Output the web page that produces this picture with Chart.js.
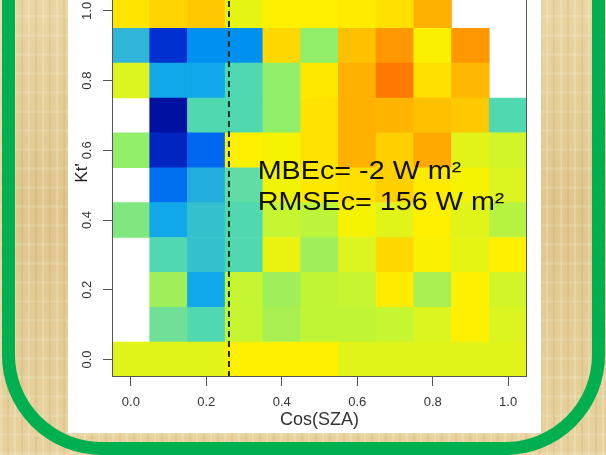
<!DOCTYPE html>
<html>
<head>
<meta charset="utf-8">
<script src="https://cdn.jsdelivr.net/npm/chart.js@4.4.1/dist/chart.umd.min.js"></script>
<style>
  html, body { margin: 0; padding: 0; }
  body {
    width: 606px; height: 455px; overflow: hidden; position: relative;
    background-color: #E6D09A;
    background-image:
      repeating-linear-gradient(90deg, rgba(255,250,225,0.22) 0px, rgba(255,250,225,0.22) 2px, rgba(0,0,0,0) 2px, rgba(0,0,0,0) 7px, rgba(150,110,40,0.10) 7px, rgba(150,110,40,0.10) 9px, rgba(0,0,0,0) 9px, rgba(0,0,0,0) 14px),
      repeating-linear-gradient(0deg, rgba(255,255,240,0.12) 0px, rgba(255,255,240,0.12) 3px, rgba(0,0,0,0) 3px, rgba(0,0,0,0) 19px),
      linear-gradient(180deg, #E9D6A3 0%, #DFC68D 45%, #E7D29E 100%);
  }
  #frame {
    position: absolute; left: 2px; top: -120px; width: 603px; height: 575px;
    box-sizing: border-box; border: 13px solid #00B050; border-radius: 100px;
  }
  #panel { position: absolute; left: 68px; top: 0; width: 473px; height: 433px; background: #fff; }
  #wrap { position: absolute; left: 68px; top: -60px; width: 473px; height: 493px; }
</style>
</head>
<body>
<div id="frame"></div>
<div id="panel"></div>
<div id="wrap"><canvas id="myChart" width="473" height="493"></canvas></div>
<script>
// cell centres
var xCenters = [0.0, 0.1, 0.2, 0.3, 0.4, 0.5, 0.6, 0.7, 0.8, 0.9, 1.0];
var yCenters = [0.0, 0.1, 0.2, 0.3, 0.4, 0.5, 0.6, 0.7, 0.8, 0.9, 1.0];
var cellSize = 0.1;

// one row per Kt' bin, bottom to top (null = no data, left white)
var cellValues = [
  [64, 64, 64, 70, 70, 70, 64, 64, 64, 64, 64],
  [null, 42, 36, 59, 53, 58, 58, 59, 63, 70, 63],
  [null, 51, 22, 59, 51, 58, 59, 72, 53, 70, 61],
  [null, 36, 30, 36, 66, 51, 63, 78, 69, 65, 70],
  [45, 22, 30, 36, 59, 57, 68, 64, 70, 64, 56],
  [null, 13, 25, 39, 67, 73, 76, 80, 72, 68, 63],
  [48, 4, 12, 70, 68, 75, 88, 80, 90, 64, 61],
  [null, 0, 36, 36, 48, 75, 88, 87, 84, 82, 36],
  [63, 22, 22, 36, 48, 73, 88, 100, 76, 86, null],
  [27, 6, 17, 17, 78, 48, 84, 94, 69, 94, null],
  [74, 79, 82, 65, 70, 70, 72, 76, 88, null, null]
];

var xTicks = [0.0, 0.2, 0.4, 0.6, 0.8, 1.0];
var yTicks = [0.0, 0.2, 0.4, 0.6, 0.8, 1.0];
var cutoffX = 0.26;
var statLines = ["MBEc= -2 W m\u00b2", "RMSEc= 156 W m\u00b2"];
var statX = 0.336;
var statY = [0.519, 0.430];

// colour scale (value -> colour)
var palette = [
  [0, "#0010A0"], [6, "#0030D0"], [12, "#0068F0"], [17, "#0090F0"], [22, "#10A8E8"],
  [27, "#30B4D8"], [30, "#34C0CC"], [36, "#50D8B0"], [42, "#70E098"], [48, "#90EE68"],
  [53, "#A8F050"], [58, "#C0F535"], [63, "#DCF520"], [68, "#F4F200"], [70, "#FFF000"],
  [76, "#FFE000"], [82, "#FFC800"], [88, "#FFB000"], [94, "#FF9800"], [100, "#FF7800"]
];

function hexToRgb(h) {
  return [parseInt(h.slice(1, 3), 16), parseInt(h.slice(3, 5), 16), parseInt(h.slice(5, 7), 16)];
}

function colorFor(v) {
  for (var i = 1; i < palette.length; i++) {
    if (v <= palette[i][0]) {
      var a = palette[i - 1], b = palette[i];
      var t = (v - a[0]) / (b[0] - a[0]);
      var ca = hexToRgb(a[1]), cb = hexToRgb(b[1]);
      var c = ca.map(function (x, k) { return Math.round(x + (cb[k] - x) * t); });
      return "rgb(" + c.join(",") + ")";
    }
  }
  return palette[palette.length - 1][1];
}

Chart.defaults.font.family = "'Liberation Sans', Arial, sans-serif";

var datasets = yCenters.map(function (yc, j) {
  var pts = [];
  xCenters.forEach(function (xc, i) {
    var v = cellValues[j][i];
    if (v !== null) pts.push({ x: xc, y: [yc - cellSize / 2, yc + cellSize / 2], v: v });
  });
  return {
    label: "Kt " + yc.toFixed(1),
    data: pts,
    backgroundColor: function (c) { return colorFor(c.raw.v); }
  };
});

var overlay = {
  id: "overlay",
  afterDatasetsDraw: function (chart) {
    var ctx = chart.ctx, xs = chart.scales.x, ys = chart.scales.y, a = chart.chartArea;
    var px = xs.getPixelForValue(cutoffX);
    ctx.save();
    ctx.beginPath();
    ctx.rect(a.left, a.top, a.right - a.left, a.bottom - a.top);
    ctx.clip();
    ctx.strokeStyle = "#17331f";
    ctx.lineWidth = 2;
    ctx.setLineDash([6, 4]);
    ctx.beginPath();
    ctx.moveTo(px, a.bottom);
    ctx.lineTo(px, a.top);
    ctx.stroke();
    ctx.restore();

    ctx.save();
    ctx.fillStyle = "#111";
    ctx.font = "25px 'Liberation Sans', Arial, sans-serif";
    ctx.textBaseline = "alphabetic";
    statLines.forEach(function (t, i) {
      ctx.save();
      ctx.translate(xs.getPixelForValue(statX), ys.getPixelForValue(statY[i]));
      ctx.scale(1.15, 1);
      ctx.fillText(t, 0, 0);
      ctx.restore();
    });
    ctx.restore();
  },
  afterDraw: function (chart) {
    var ctx = chart.ctx, a = chart.chartArea;
    ctx.save();
    ctx.strokeStyle = "#555";
    ctx.lineWidth = 1;
    ctx.strokeRect(Math.round(a.left) + 0.5, Math.round(a.top) + 0.5,
      Math.round(a.right - a.left) - 1, Math.round(a.bottom - a.top) - 1);
    ctx.restore();
  }
};

var ctx = document.getElementById("myChart").getContext("2d");
var chart = new Chart(ctx, {
  type: "bar",
  data: { datasets: datasets },
  options: {
    responsive: false,
    animation: false,
    devicePixelRatio: 1,
    layout: { padding: { left: 0, right: 14, top: 29, bottom: 0 } },
    plugins: { legend: { display: false }, tooltip: { enabled: false } },
    datasets: { bar: { grouped: false, barPercentage: 1, categoryPercentage: 1, borderWidth: 0 } },
    scales: {
      x: {
        type: "linear",
        offset: false,
        min: -0.05,
        max: 1.05,
        afterBuildTicks: function (s) { s.ticks = xTicks.map(function (v) { return { value: v }; }); },
        afterFit: function (s) { s.height = 56; },
        grid: { offset: false, drawOnChartArea: false, tickLength: 9, tickColor: "#555" },
        border: { display: false },
        ticks: {
          color: "#333", font: { size: 13 }, padding: 9, maxRotation: 0,
          callback: function (v) { return v.toFixed(1); }
        },
        title: { display: true, text: "Cos(SZA)", color: "#333", font: { size: 18 }, padding: { top: 0, bottom: 2 } }
      },
      y: {
        type: "linear",
        offset: false,
        min: -0.05,
        max: 1.12,
        afterBuildTicks: function (s) { s.ticks = yTicks.map(function (v) { return { value: v }; }); },
        afterFit: function (s) { s.width = 44; },
        grid: { offset: false, drawOnChartArea: false, tickLength: 9, tickColor: "#555" },
        border: { display: false },
        ticks: {
          color: "#333", font: { size: 13 }, padding: 7, minRotation: 90, maxRotation: 90, crossAlign: "center",
          callback: function (v) { return v.toFixed(1); }
        },
        title: { display: true, text: "Kt'", color: "#222", font: { size: 17 }, padding: { top: 4, bottom: 0 } }
      }
    }
  },
  plugins: [overlay]
});
</script>
</body>
</html>
